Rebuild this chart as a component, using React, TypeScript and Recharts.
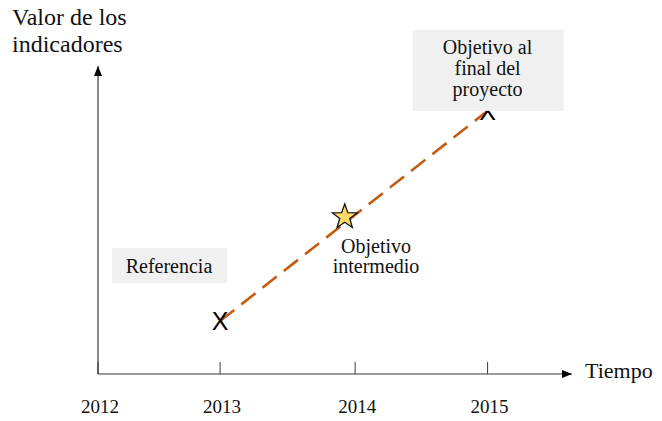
import React from 'react';
import {
  ComposedChart,
  Line,
  Scatter,
  XAxis,
  YAxis,
  ReferenceDot,
  ReferenceLine,
  Customized,
} from 'recharts';

// Time axis (years) — tick positions
const tickYears = [2012, 2012.94, 2013.98, 2015];
const tickLabels = ['2012', '2013', '2014', '2015'];

// Indicator values
const baselinePoint = [{ x: 2012.94, y: 19.6 }];
const finalPoint = [{ x: 2015, y: 97.4 }];
const midPoint = [{ x: 2013.9, y: 58.5 }];
const targetLine = [
  { x: 2012.94, y: 19.6 },
  { x: 2015, y: 97.4 },
];

const finalLabel = ['Objetivo al', 'final del', 'proyecto'];
const midLabel = ['Objetivo', 'intermedio'];
const baseLabel = 'Referencia';
const yTitle = ['Valor de los', 'indicadores'];
const xTitle = 'Tiempo';

const xDomain: [number, number] = [2012, 2015.65];
const yDomain: [number, number] = [0, 114];

const FONT = '"Liberation Serif", "Times New Roman", serif';
const AXIS = '#3a3a3a';
const ORANGE = '#C55A11';
const BOX = '#F0F0F0';

const XGlyph = ({ cx, cy }: { cx: number; cy: number }) => (
  <text
    x={cx}
    y={cy + 9}
    textAnchor="middle"
    fontFamily='"Liberation Sans", Arial, sans-serif'
    fontSize={25}
    fill="#000"
  >
    X
  </text>
);

const BaseMark = (props: any) => {
  const { cx, cy } = props;
  return <XGlyph cx={cx} cy={cy} />;
};

const FinalMark = (props: any) => {
  const { cx, cy } = props;
  return (
    <g>
      <XGlyph cx={cx} cy={cy} />
      <rect x={cx - 75} y={cy - 81} width={151} height={81} fill={BOX} />
      {finalLabel.map((t, i) => (
        <text
          key={t}
          x={cx}
          y={cy - 57 + i * 21}
          fontSize={20}
          textAnchor="middle"
          fontFamily={FONT}
          fill="#111"
        >
          {t}
        </text>
      ))}
    </g>
  );
};

const StarMark = (props: any) => {
  const { cx, cy } = props;
  const R = 13;
  const r = 5.3;
  const pts: string[] = [];
  for (let i = 0; i < 10; i++) {
    const rad = i % 2 === 0 ? R : r;
    const a = -Math.PI / 2 + (i * Math.PI) / 5;
    pts.push(`${cx + rad * Math.cos(a)},${cy + 1 + rad * Math.sin(a)}`);
  }
  return <polygon points={pts.join(' ')} fill="#FFD966" stroke="#111" strokeWidth={1.3} />;
};

const UpArrow = (props: any) => {
  const { cx, cy } = props;
  return <polygon points={`${cx},${cy} ${cx - 4},${cy + 10} ${cx + 4},${cy + 10}`} fill="#000" />;
};

const RightArrow = (props: any) => {
  const { cx, cy } = props;
  return <polygon points={`${cx},${cy} ${cx - 10},${cy - 4} ${cx - 10},${cy + 4}`} fill="#000" />;
};

const YearTick = (props: any) => {
  const { x, y, payload, index } = props;
  return (
    <g>
      <line x1={x} x2={x} y1={y - 12} y2={y} stroke={AXIS} strokeWidth={1} />
      <text x={x + 2} y={y + 39} textAnchor="middle" fontFamily={FONT} fontSize={19} fill="#111">
        {tickLabels[index] ?? payload.value}
      </text>
    </g>
  );
};

const Annotations = () => (
  <g fontFamily={FONT} fill="#111">
    <text x={12} y={25} fontSize={24}>{yTitle[0]}</text>
    <text x={12} y={52} fontSize={24}>{yTitle[1]}</text>
    <text x={585} y={378} fontSize={22}>{xTitle}</text>

    <rect x={112} y={248} width={115} height={35} fill={BOX} />
    <text x={169} y={273} fontSize={20} textAnchor="middle">{baseLabel}</text>

    <text x={376} y={253} fontSize={20} textAnchor="middle">{midLabel[0]}</text>
    <text x={376} y={273} fontSize={20} textAnchor="middle">{midLabel[1]}</text>
  </g>
);

export default function App() {
  return (
    <div style={{ position: 'absolute', left: 0, top: 0, background: '#fff' }}>
      <ComposedChart
        width={662}
        height={421}
        margin={{ top: 66, right: 90, bottom: 0, left: 98 }}
      >
        <XAxis
          type="number"
          dataKey="x"
          domain={xDomain}
          ticks={tickYears}
          interval={0}
          tickSize={0}
          tickMargin={0}
          tickLine={false}
          tick={<YearTick />}
          height={47}
          axisLine={{ stroke: AXIS, strokeWidth: 1.2 }}
        />
        <YAxis type="number" dataKey="y" domain={yDomain} hide />
        <ReferenceLine x={xDomain[0]} stroke={AXIS} strokeWidth={1.2} />
        <Customized component={Annotations} />
        <Line
          data={targetLine}
          dataKey="y"
          type="linear"
          stroke={ORANGE}
          strokeWidth={2.6}
          strokeDasharray="18 9"
          dot={false}
          activeDot={false}
          isAnimationActive={false}
        />
        <Scatter data={baselinePoint} dataKey="y" shape={<BaseMark />} isAnimationActive={false} />
        <Scatter data={midPoint} dataKey="y" shape={<StarMark />} isAnimationActive={false} />
        <Scatter data={finalPoint} dataKey="y" shape={<FinalMark />} isAnimationActive={false} />
        <ReferenceDot x={xDomain[0]} y={yDomain[1]} shape={<UpArrow />} />
        <ReferenceDot x={xDomain[1]} y={yDomain[0]} shape={<RightArrow />} />
      </ComposedChart>
    </div>
  );
}
